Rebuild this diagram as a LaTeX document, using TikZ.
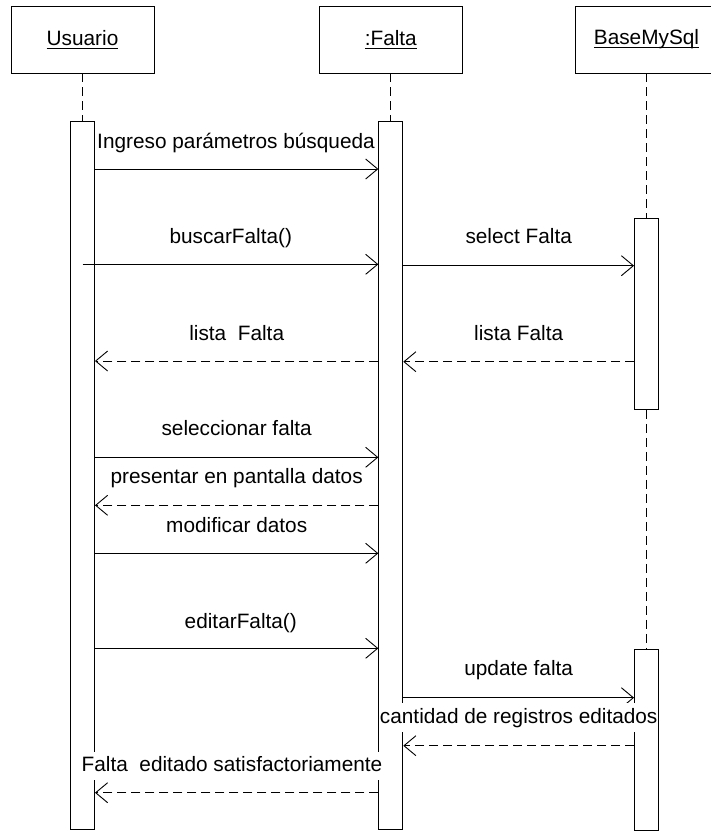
\documentclass[tikz,border=0pt]{standalone}
\usepackage{fontspec}
\setmainfont{Liberation Sans}
\usetikzlibrary{arrows.meta}
\newcommand\ulab[1]{\leavevmode\setbox0\hbox{#1}\rlap{\vrule height -2.5pt depth 3.5pt width \wd0}\box0}
\begin{document}
\begin{tikzpicture}[x=1pt,y=-1pt, line width=0.9pt,
  objbox/.style={draw, fill=white, minimum width=143pt, minimum height=67pt, inner sep=0pt, font=\fontsize{20.8}{25}\selectfont},
  actbar/.style={draw, fill=white, minimum width=24pt, inner sep=0pt},
  lifeline/.style={dash pattern=on 9pt off 5pt},
  msg/.style={-{Straight Barb[length=12pt,width=20pt]}},
  ret/.style={msg, dash pattern=on 9pt off 5pt},
  lbl/.style={fill=white, inner xsep=1pt, inner ysep=2pt, text height=18pt, text depth=6.5pt, anchor=base, font=\fontsize{20.8}{25}\selectfont}]
\path[use as bounding box] (0,0) rectangle (711,831);
\clip (0,0) rectangle (711,831);
% objects
\node[objbox] (u) at (82.5,39.5) {\ulab{Usuario}};
\node[objbox] (f) at (390.8,39.5) {\ulab{:Falta}};
\node[objbox] (b) at (646.5,39.5) {\ulab{BaseMySql}};
% activation bars
\node[actbar, minimum height=708pt] (ua) at (82.5,475.5) {};
\node[actbar, minimum height=708pt] (fa) at (390.8,475.5) {};
\node[actbar, minimum height=191.3pt] (ba1) at (646.5,313.7) {};
\node[actbar, minimum height=181pt] (ba2) at (646.5,739.8) {};
% lifelines
\draw[lifeline] (u.south) -- (ua.north);
\draw[lifeline] (f.south) -- (fa.north);
\draw[lifeline] (b.south) -- (ba1.north);
\draw[lifeline] (ba1.south) -- (ba2.north);
% messages
\draw[msg] (ua.east |- 0,169) -- (fa.west |- 0,169);
\draw[msg] (ua.center |- 0,264.3) -- (fa.west |- 0,264.3);
\draw[msg] (fa.east |- 0,265.7) -- (ba1.west |- 0,265.7);
\draw[ret] (fa.west |- 0,361) -- (ua.east |- 0,361);
\draw[ret] (ba1.west |- 0,361.7) -- (fa.east |- 0,361.7);
\draw[msg] (ua.east |- 0,457.3) -- (fa.west |- 0,457.3);
\draw[ret] (fa.west |- 0,505.3) -- (ua.east |- 0,505.3);
\draw[msg] (ua.east |- 0,553.3) -- (fa.west |- 0,553.3);
\draw[msg] (ua.east |- 0,648.3) -- (fa.west |- 0,648.3);
\draw[msg] (fa.east |- 0,697.7) -- (ba2.west |- 0,697.7);
\draw[ret] (ba2.west |- 0,745.7) -- (fa.east |- 0,745.7);
\draw[ret] (fa.west |- 0,792.7) -- (ua.east |- 0,792.7);
% labels
\node[lbl] (l1) at (236,148) {Ingreso parámetros búsqueda};
\node[lbl] (l2) at (230.8,243.8) {buscarFalta()};
\node[lbl] (l3) at (518.7,243.3) {select Falta};
\node[lbl] (l4) at (236.7,340) {lista\ \ Falta};
\node[lbl] (l5) at (518.7,340) {lista Falta};
\node[lbl] (l6) at (236.7,435) {seleccionar falta};
\node[lbl] (l7) at (236.7,483.3) {presentar en pantalla datos};
\node[lbl] (l8) at (236.7,532.3) {modificar datos};
\node[lbl] (l9) at (240.8,628.3) {editarFalta()};
\node[lbl] (l10) at (518.7,675) {update falta};
\node[lbl] (l11) at (518.7,723.3) {cantidad de registros editados};
\node[lbl] (l12) at (232,771.7) {Falta\ \ editado satisfactoriamente};
\end{tikzpicture}
\end{document}
